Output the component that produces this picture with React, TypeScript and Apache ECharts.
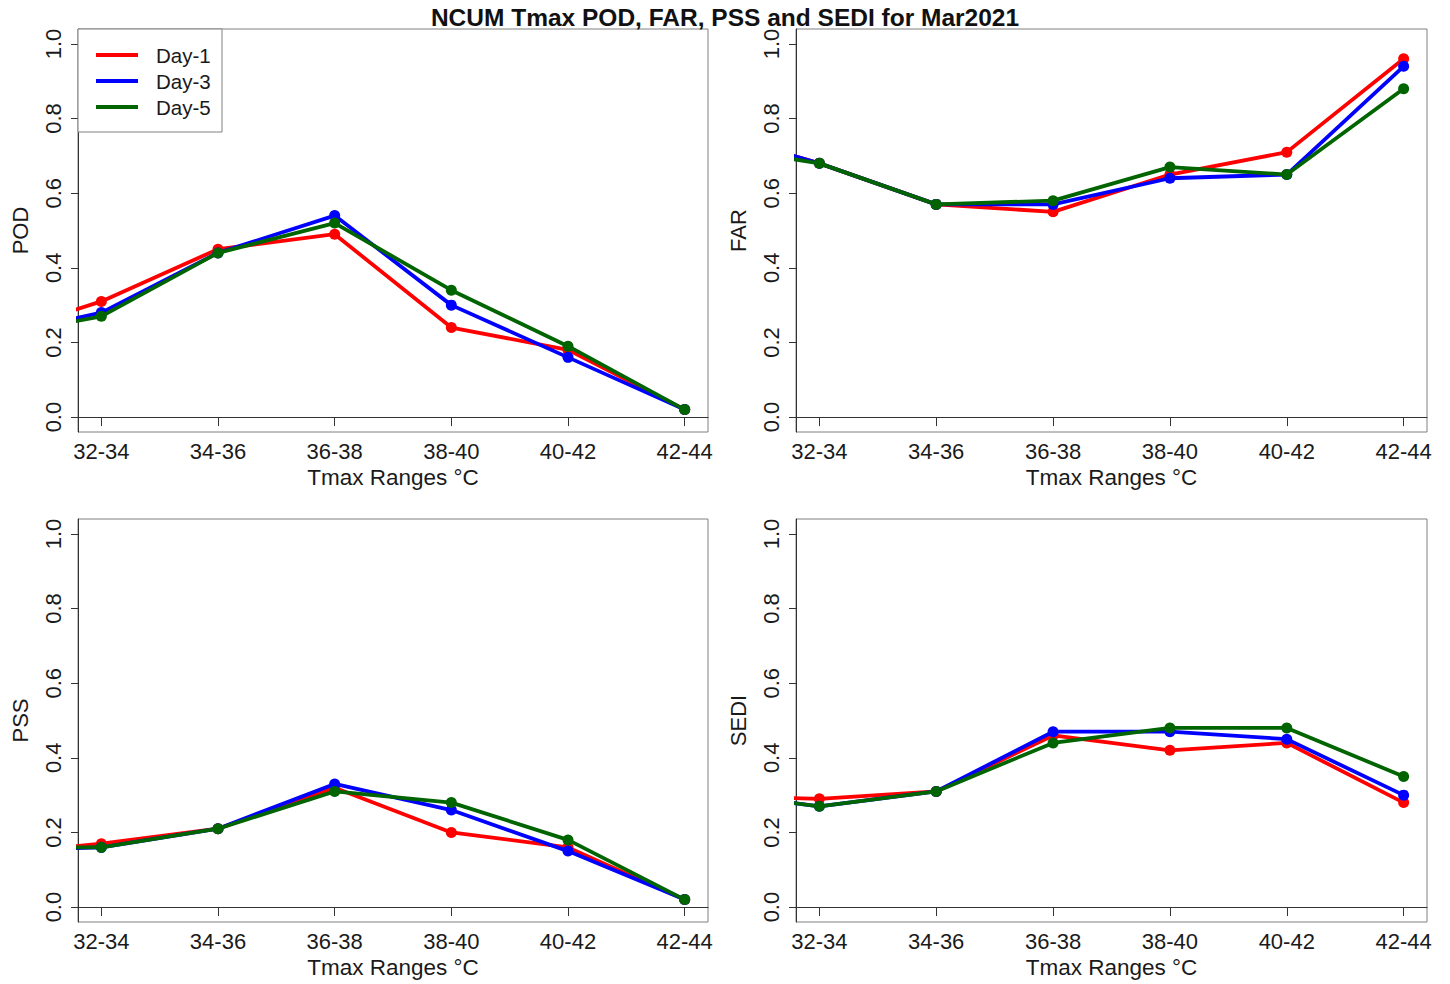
import React, { useEffect, useRef } from "react";
import * as echarts from "echarts";

const categories = ["32-34", "34-36", "36-38", "38-40", "40-42", "42-44"];
const seriesNames = ["Day-1", "Day-3", "Day-5"];
const seriesColors = ["#ff0000", "#0000ff", "#006400"];
const yTicks = [0, 0.2, 0.4, 0.6, 0.8, 1.0];
const xTicks = [1, 2, 3, 4, 5, 6];

// first value = point before the first range, clipped at the plot's left edge
const podDay1 = [0.21, 0.31, 0.45, 0.49, 0.24, 0.18, 0.02];
const podDay3 = [0.21, 0.28, 0.44, 0.54, 0.30, 0.16, 0.02];
const podDay5 = [0.21, 0.27, 0.44, 0.52, 0.34, 0.19, 0.02];

const farDay1 = [0.77, 0.68, 0.57, 0.55, 0.65, 0.71, 0.96];
const farDay3 = [0.77, 0.68, 0.57, 0.57, 0.64, 0.65, 0.94];
const farDay5 = [0.73, 0.68, 0.57, 0.58, 0.67, 0.65, 0.88];

const pssDay1 = [0.14, 0.17, 0.21, 0.32, 0.20, 0.16, 0.02];
const pssDay3 = [0.15, 0.16, 0.21, 0.33, 0.26, 0.15, 0.02];
const pssDay5 = [0.16, 0.16, 0.21, 0.31, 0.28, 0.18, 0.02];

const sediDay1 = [0.30, 0.29, 0.31, 0.46, 0.42, 0.44, 0.28];
const sediDay3 = [0.31, 0.27, 0.31, 0.47, 0.47, 0.45, 0.30];
const sediDay5 = [0.31, 0.27, 0.31, 0.44, 0.48, 0.48, 0.35];

const panelNames = ["POD", "FAR", "PSS", "SEDI"];
const panelData = [
  [podDay1, podDay3, podDay5],
  [farDay1, farDay3, farDay5],
  [pssDay1, pssDay3, pssDay5],
  [sediDay1, sediDay3, sediDay5],
];

const titleText = "NCUM Tmax POD, FAR, PSS and SEDI for Mar2021";
const xAxisName = "Tmax Ranges \u00b0C";

const FONT = "Liberation Sans";

export default function App() {
  const ref = useRef<HTMLDivElement>(null);
  useEffect(() => {
    if (!ref.current) return;
    const chart = echarts.init(ref.current, null, { renderer: "svg" });
    const grids = [
      { left: 78, top: 29, width: 630, height: 403 },
      { left: 796, top: 29, width: 631, height: 403 },
      { left: 78, top: 519, width: 630, height: 403 },
      { left: 796, top: 519, width: 631, height: 403 },
    ].map((g) => ({ ...g, show: true, borderColor: "#808080", borderWidth: 1, backgroundColor: "transparent" }));

    const xAxes = grids.map((_, i) => ({
      type: "value",
      gridIndex: i,
      min: 0.8,
      max: 6.2,
      name: xAxisName,
      nameLocation: "middle",
      nameGap: 34,
      nameTextStyle: { fontFamily: FONT, fontSize: 22.5, color: "#1a1a1a" },
      axisLine: { show: true, lineStyle: { color: "#333", width: 1 } },
      axisTick: { show: true, length: 9, customValues: xTicks, lineStyle: { color: "#333" } },
      axisLabel: {
        customValues: xTicks,
        formatter: (v: number) => categories[Math.round(v) - 1] ?? "",
        fontFamily: FONT,
        fontSize: 22,
        color: "#1a1a1a",
        margin: 8,
      },
      splitLine: { show: false },
    }));

    const yAxes = grids.map((_, i) => ({
      type: "value",
      gridIndex: i,
      min: -0.04,
      max: 1.04,
      name: panelNames[i],
      nameLocation: "middle",
      nameGap: 47,
      nameRotate: 90,
      nameTextStyle: { fontFamily: FONT, fontSize: 22, color: "#1a1a1a" },
      axisLine: { show: true, lineStyle: { color: "#333", width: 1 } },
      axisTick: { show: true, length: 7, customValues: yTicks, lineStyle: { color: "#333" } },
      axisLabel: {
        customValues: yTicks,
        formatter: (v: number) => v.toFixed(1),
        rotate: 90,
        fontFamily: FONT,
        fontSize: 22,
        color: "#1a1a1a",
        margin: 14,
      },
      splitLine: { show: false },
    }));

    const series: any[] = [];
    panelData.forEach((arrs, p) => {
      arrs.forEach((vals, s) => {
        series.push({
          type: "line",
          name: seriesNames[s],
          xAxisIndex: p,
          yAxisIndex: p,
          data: vals.map((v, k) => [k, v]),
          clip: true,
          symbol: "circle",
          symbolSize: 11,
          lineStyle: { color: seriesColors[s], width: 3.8 },
          itemStyle: { color: seriesColors[s] },
          z: 2 + s,
        });
      });
    });

    const legendLeft = 78;
    const legendTop = 29;
    const legendGraphics: any[] = [
      {
        type: "rect",
        shape: { x: legendLeft, y: legendTop, width: 144, height: 103 },
        style: { fill: "#fff", stroke: "#808080", lineWidth: 1 },
        z: 10,
      },
    ];
    seriesNames.forEach((n, i) => {
      const cy = legendTop + 26 + i * 26;
      legendGraphics.push({
        type: "line",
        shape: { x1: legendLeft + 18, y1: cy, x2: legendLeft + 60, y2: cy },
        style: { stroke: seriesColors[i], lineWidth: 3.8 },
        z: 11,
      });
      legendGraphics.push({
        type: "text",
        x: legendLeft + 78,
        y: cy,
        style: {
          text: n,
          fontFamily: FONT,
          fontSize: 20.5,
          fill: "#1a1a1a",
          verticalAlign: "middle",
          align: "left",
        },
        z: 11,
      });
    });

    chart.setOption({
      animation: false,
      backgroundColor: "#ffffff",
      title: {
        text: titleText,
        left: "center",
        top: 0,
        textStyle: { fontFamily: FONT, fontSize: 24.5, fontWeight: "bold", color: "#111" },
      },
      grid: grids,
      xAxis: xAxes,
      yAxis: yAxes,
      series,
      graphic: legendGraphics,
    });
    return () => chart.dispose();
  }, []);
  return (
    <div
      ref={ref}
      style={{ position: "fixed", left: 0, top: 0, width: 1450, height: 984, background: "#fff" }}
    />
  );
}
